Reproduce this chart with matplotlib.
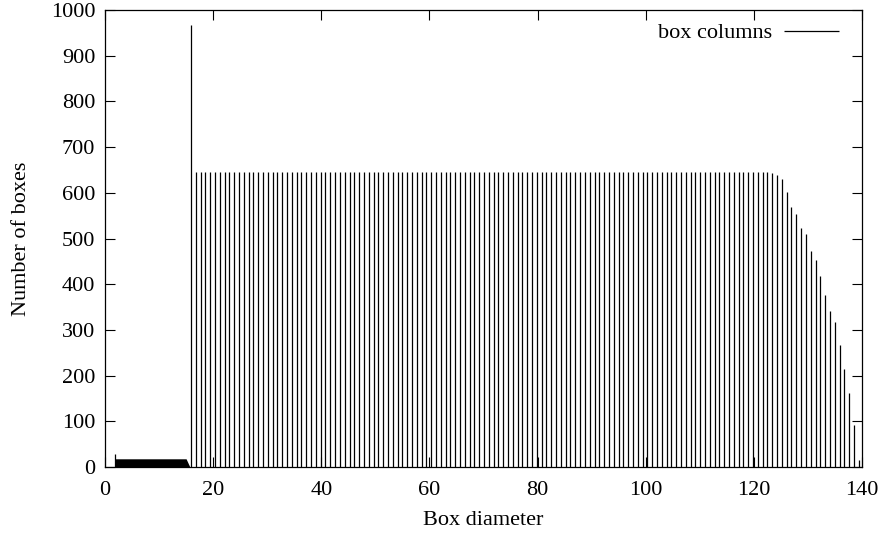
import numpy as np
import matplotlib.pyplot as plt

plt.rcParams['font.family'] = ['Liberation Serif', 'DejaVu Serif']

# small boxes: one thin spike, then a dense band of low counts
low_x = [1.8, 15.0, 15.7]
low_y = [18, 18, 0]
first_x = 1.8
first_y = 28

# main series: spike at 15.9, then one column every 0.8885
x_start = 15.9
x_step = 0.8885
counts = [968,
          645, 645, 645, 645, 645, 645, 645, 645, 645, 645, 645, 645, 645, 645, 645, 645, 645, 645, 645, 645,
          645, 645, 645, 645, 645, 645, 645, 645, 645, 645, 645, 645, 645, 645, 645, 645, 645, 645, 645, 645,
          645, 645, 645, 645, 645, 645, 645, 645, 645, 645, 645, 645, 645, 645, 645, 645, 645, 645, 645, 645,
          645, 645, 645, 645, 645, 645, 645, 645, 645, 645, 645, 645, 645, 645, 645, 645, 645, 645, 645, 645,
          645, 645, 645, 645, 645, 645, 645, 645, 645, 645, 645, 645, 645, 645, 645, 645, 645, 645, 645, 645,
          645, 645, 645, 645, 645, 645, 645, 645, 645, 645, 645, 645, 645, 645, 645, 645, 645, 645, 645, 645,
          644, 639, 631, 602, 570, 554, 522, 509, 472, 454,
          418, 376, 341, 317, 268, 214, 163, 92, 15]

xticks = [0, 20, 40, 60, 80, 100, 120, 140]
yticks = [0, 100, 200, 300, 400, 500, 600, 700, 800, 900, 1000]

diam = x_start + x_step * np.arange(len(counts))

fig = plt.figure(figsize=(8.86, 5.33), dpi=100)
ax = fig.add_axes([0.1185, 0.1238, 0.8544, 0.8574])

ax.fill_between(low_x, 0, low_y, color='black', lw=0)
ax.vlines([first_x], 0, [first_y], color='black', lw=0.9)
ax.vlines(diam, 0, counts, color='black', lw=0.9, label='box columns')

ax.set_xlim(0, 140)
ax.set_ylim(0, 1000)
ax.set_xticks(xticks)
ax.set_yticks(yticks)
ax.tick_params(direction='in', length=7.2, width=0.8, labelsize=16,
               top=True, right=True, pad=7)
ax.tick_params(axis='x', pad=10)
for s in ax.spines.values():
    s.set_linewidth(0.9)
ax.set_xlabel('Box diameter', fontsize=16, labelpad=8)
ax.set_ylabel('Number of boxes', fontsize=16, labelpad=14)

ax.legend(loc='upper right', bbox_to_anchor=(0.9815, 0.9912), frameon=False,
          fontsize=16, markerfirst=False, handlelength=2.5,
          borderaxespad=0, handletextpad=0.5)

fig.savefig('out.png', dpi=100)
